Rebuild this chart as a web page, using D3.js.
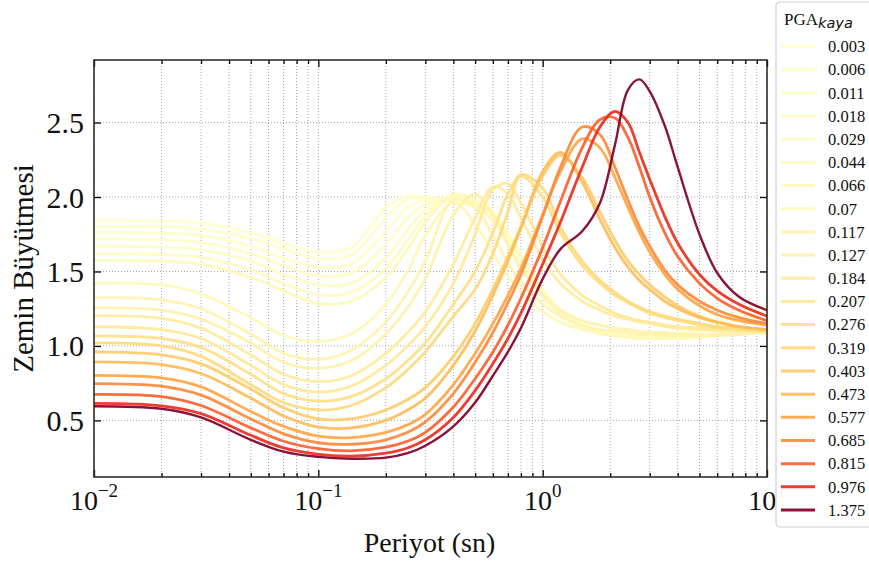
<!DOCTYPE html>
<html><head><meta charset="utf-8">
<script src="https://cdn.jsdelivr.net/npm/d3@7"></script>
<style>
html,body{margin:0;padding:0;background:#fff;}
svg{display:block;}
text{font-family:"Liberation Serif","Times New Roman",serif;}
</style></head>
<body><svg id="chart" width="869" height="563"></svg>
<script>
// ---------------- DATA ----------------
const periods = [0.01,0.02,0.03,0.05,0.07,0.1,0.14,0.2,0.25,0.3,0.4,0.5,0.6,0.7,0.8,1.0,1.2,1.5,1.8,2.1,2.4,2.7,3.0,3.5,4.0,5.0,6.0,7.5,10];
const pgaLabels = ["0.003","0.006","0.011","0.018","0.029","0.044","0.066","0.07","0.117","0.127","0.184","0.207","0.276","0.319","0.403","0.473","0.577","0.685","0.815","0.976","1.375"];
const yTicks = [0.5,1.0,1.5,2.0,2.5];
const xMajorTicks = [0.01,0.1,1,10];
const xTickExponents = ["\u22122","\u22121","0","1"];

const amp_0_003 = [1.843,1.84,1.825,1.76,1.69,1.63,1.66,1.93,2.01,1.98,1.96,1.93,1.85,1.72,1.58,1.36,1.24,1.14,1.10,1.08,1.07,1.07,1.07,1.08,1.09,1.12,1.16,1.21,1.27];
const amp_0_006 = [1.803,1.80,1.785,1.72,1.65,1.585,1.61,1.86,1.99,2.0,1.97,1.94,1.86,1.73,1.59,1.37,1.24,1.14,1.10,1.08,1.07,1.07,1.07,1.07,1.08,1.10,1.13,1.17,1.22];
const amp_0_011 = [1.762,1.758,1.74,1.67,1.59,1.53,1.55,1.77,1.93,1.98,1.97,1.95,1.88,1.75,1.60,1.38,1.24,1.14,1.09,1.07,1.06,1.06,1.06,1.06,1.06,1.07,1.08,1.10,1.12];
const amp_0_018 = [1.718,1.713,1.695,1.62,1.54,1.47,1.49,1.68,1.86,1.95,1.98,1.96,1.89,1.76,1.61,1.38,1.24,1.14,1.09,1.07,1.06,1.05,1.05,1.05,1.05,1.06,1.07,1.08,1.10];
const amp_0_029 = [1.668,1.663,1.645,1.57,1.48,1.41,1.42,1.59,1.78,1.91,2.0,1.98,1.90,1.76,1.61,1.38,1.24,1.14,1.09,1.07,1.06,1.05,1.05,1.05,1.05,1.06,1.07,1.08,1.09];
const amp_0_044 = [1.619,1.614,1.595,1.51,1.42,1.345,1.36,1.52,1.71,1.87,2.02,1.98,1.88,1.73,1.58,1.36,1.23,1.13,1.09,1.07,1.06,1.05,1.05,1.05,1.05,1.06,1.07,1.08,1.09];
const amp_0_066 = [1.575,1.57,1.55,1.46,1.37,1.285,1.30,1.46,1.65,1.83,2.01,1.96,1.84,1.68,1.53,1.33,1.21,1.12,1.08,1.07,1.06,1.05,1.05,1.05,1.05,1.06,1.07,1.08,1.09];
const amp_0_07  = [1.421,1.41,1.35,1.19,1.07,1.03,1.08,1.28,1.50,1.74,1.96,1.82,1.62,1.47,1.36,1.23,1.16,1.11,1.09,1.08,1.07,1.07,1.06,1.06,1.06,1.06,1.07,1.08,1.10];
const amp_0_117 = [1.324,1.31,1.25,1.08,0.95,0.91,0.97,1.16,1.36,1.57,1.98,1.93,1.74,1.56,1.43,1.28,1.20,1.14,1.11,1.10,1.09,1.08,1.08,1.07,1.07,1.07,1.07,1.08,1.09];
const amp_0_127 = [1.257,1.24,1.18,1.02,0.89,0.85,0.90,1.08,1.26,1.45,1.88,2.02,1.88,1.68,1.52,1.34,1.24,1.17,1.14,1.12,1.11,1.10,1.09,1.09,1.08,1.08,1.08,1.08,1.09];
const amp_0_184 = [1.203,1.185,1.12,0.94,0.81,0.76,0.80,0.95,1.09,1.23,1.55,1.86,2.07,2.02,1.86,1.58,1.42,1.30,1.24,1.20,1.18,1.16,1.15,1.13,1.12,1.11,1.10,1.10,1.10];
const amp_0_207 = [1.129,1.11,1.05,0.87,0.74,0.69,0.73,0.87,1.00,1.13,1.42,1.75,2.05,2.09,1.96,1.67,1.48,1.34,1.27,1.22,1.19,1.17,1.16,1.14,1.13,1.12,1.11,1.10,1.10];
const amp_0_276 = [1.068,1.05,0.99,0.81,0.68,0.63,0.66,0.78,0.90,1.02,1.28,1.50,1.76,2.02,2.14,2.00,1.76,1.54,1.42,1.34,1.29,1.25,1.22,1.19,1.17,1.14,1.12,1.11,1.10];
const amp_0_319 = [1.02,1.00,0.93,0.74,0.62,0.57,0.60,0.72,0.84,0.96,1.20,1.38,1.62,1.90,2.15,2.06,1.80,1.57,1.44,1.36,1.30,1.26,1.23,1.20,1.18,1.15,1.13,1.12,1.11];
const amp_0_403 = [0.96,0.94,0.88,0.71,0.585,0.51,0.51,0.57,0.64,0.72,0.93,1.15,1.38,1.60,1.80,2.14,2.28,2.13,1.90,1.71,1.57,1.48,1.41,1.33,1.27,1.20,1.16,1.13,1.11];
const amp_0_473 = [0.893,0.875,0.815,0.65,0.53,0.455,0.45,0.50,0.57,0.65,0.87,1.10,1.34,1.57,1.79,2.17,2.30,2.10,1.85,1.66,1.53,1.44,1.38,1.30,1.25,1.19,1.16,1.13,1.11];
const amp_0_577 = [0.803,0.785,0.725,0.56,0.46,0.395,0.385,0.42,0.47,0.54,0.74,0.95,1.15,1.34,1.52,1.88,2.17,2.39,2.33,2.13,1.93,1.76,1.63,1.48,1.38,1.27,1.21,1.17,1.14];
const amp_0_685 = [0.747,0.73,0.67,0.51,0.41,0.35,0.34,0.37,0.42,0.49,0.68,0.89,1.09,1.29,1.48,1.87,2.20,2.47,2.42,2.20,1.98,1.80,1.67,1.51,1.41,1.30,1.24,1.19,1.15];
const amp_0_815 = [0.675,0.66,0.60,0.45,0.36,0.31,0.295,0.32,0.36,0.42,0.59,0.78,0.96,1.14,1.32,1.66,1.97,2.33,2.52,2.53,2.40,2.20,2.00,1.76,1.60,1.42,1.32,1.24,1.17];
const amp_0_976 = [0.615,0.598,0.545,0.40,0.315,0.272,0.26,0.28,0.315,0.37,0.52,0.70,0.88,1.05,1.22,1.55,1.83,2.20,2.47,2.575,2.50,2.30,2.12,1.87,1.69,1.48,1.37,1.28,1.20];
const amp_1_375 = [0.595,0.578,0.52,0.37,0.29,0.255,0.243,0.25,0.28,0.33,0.46,0.62,0.80,0.96,1.12,1.45,1.65,1.77,1.96,2.35,2.72,2.79,2.71,2.48,2.20,1.75,1.49,1.33,1.24];

const seriesValues = [amp_0_003,amp_0_006,amp_0_011,amp_0_018,amp_0_029,amp_0_044,amp_0_066,amp_0_07,amp_0_117,amp_0_127,amp_0_184,amp_0_207,amp_0_276,amp_0_319,amp_0_403,amp_0_473,amp_0_577,amp_0_685,amp_0_815,amp_0_976,amp_1_375];

// ---------------- CHART ----------------
const svg = d3.select("#chart");
const W = 869, H = 563;
const m = {left:94, right:767, top:60, bottom:477};
const x = d3.scaleLog().domain([0.01,10]).range([m.left,m.right]);
const y = d3.scaleLinear().domain([0.12,2.92]).range([m.bottom,m.top]);
const pgaMax = +pgaLabels[pgaLabels.length-1];
const color = v => d3.interpolateYlOrRd(v/pgaMax);

svg.append("rect").attr("width",W).attr("height",H).attr("fill","#fff");

const xMinor = [];
[0.01,0.1,1].forEach(d=>{for(let k=2;k<=9;k++) xMinor.push(d*k);});
const xAllGrid = xMajorTicks.concat(xMinor);

const grid = svg.append("g").attr("class","grid");
grid.selectAll("line.vx").data(xAllGrid).join("line")
  .attr("x1",d=>x(d)).attr("x2",d=>x(d)).attr("y1",m.top).attr("y2",m.bottom)
  .attr("stroke","#a8a8a8").attr("stroke-width",1).attr("stroke-dasharray","1,2");
grid.selectAll("line.hy").data(yTicks).join("line")
  .attr("x1",m.left).attr("x2",m.right).attr("y1",d=>y(d)).attr("y2",d=>y(d))
  .attr("stroke","#a8a8a8").attr("stroke-width",1).attr("stroke-dasharray","1,2");

svg.append("clipPath").attr("id","clip").append("rect")
  .attr("x",m.left).attr("y",m.top).attr("width",m.right-m.left).attr("height",m.bottom-m.top);

const line = d3.line()
  .x((d,i)=>x(periods[i]))
  .y(d=>y(d))
  .curve(d3.curveCatmullRom.alpha(0.5));

const lines = svg.append("g").attr("clip-path","url(#clip)");
seriesValues.forEach((vals,i)=>{
  lines.append("path").datum(vals)
    .attr("d",line)
    .attr("fill","none")
    .attr("stroke",color(+pgaLabels[i]))
    .attr("stroke-opacity",0.92)
    .attr("stroke-width", i===seriesValues.length-1 ? 2.4 : 2.8)
    .attr("stroke-linejoin","round")
    .attr("stroke-linecap","round");
});

const axB = svg.append("g").attr("transform",`translate(0,${m.bottom})`)
  .call(d3.axisBottom(x).tickValues(xMajorTicks).tickSize(-7).tickFormat(""));
const axBm = svg.append("g").attr("transform",`translate(0,${m.bottom})`)
  .call(d3.axisBottom(x).tickValues(xMinor).tickSize(-4).tickFormat(""));
const axT = svg.append("g").attr("transform",`translate(0,${m.top})`)
  .call(d3.axisTop(x).tickValues(xMajorTicks).tickSize(-7).tickFormat(""));
const axTm = svg.append("g").attr("transform",`translate(0,${m.top})`)
  .call(d3.axisTop(x).tickValues(xMinor).tickSize(-4).tickFormat(""));
const axL = svg.append("g").attr("transform",`translate(${m.left},0)`)
  .call(d3.axisLeft(y).tickValues(yTicks).tickSize(-7).tickFormat(""));
const axR = svg.append("g").attr("transform",`translate(${m.right},0)`)
  .call(d3.axisRight(y).tickValues(yTicks).tickSize(-7).tickFormat(""));
[axB,axBm,axT,axTm,axL,axR].forEach(g=>{
  g.select(".domain").remove();
  g.selectAll(".tick line").attr("stroke","#000").attr("stroke-width",1.3);
});
svg.append("rect").attr("x",m.left).attr("y",m.top)
  .attr("width",m.right-m.left).attr("height",m.bottom-m.top)
  .attr("fill","none").attr("stroke","#222").attr("stroke-width",1.5);

svg.append("g").selectAll("text").data(yTicks).join("text")
  .attr("x",m.left-10).attr("y",d=>y(d)).attr("dy","0.35em")
  .attr("text-anchor","end").attr("font-size",30).attr("fill","#111")
  .text(d=>d.toFixed(1));

const xl = svg.append("g").selectAll("text").data(xMajorTicks).join("text")
  .attr("x",d=>x(d)).attr("y",m.bottom+33)
  .attr("text-anchor","middle").attr("font-size",28).attr("fill","#111");
xl.append("tspan").text("10");
xl.append("tspan").attr("font-size",19).attr("dy",-13).text((d,i)=>xTickExponents[i]);

svg.append("text").attr("x",(m.left+m.right)/2 - 1).attr("y",552)
  .attr("text-anchor","middle").attr("font-size",28).attr("fill","#111").text("Periyot (sn)");
svg.append("text").attr("transform",`translate(33,${(m.top+m.bottom)/2}) rotate(-90)`)
  .attr("text-anchor","middle").attr("font-size",29).attr("fill","#111").text("Zemin Büyütmesi");

// legend
const lg = svg.append("g");
lg.append("rect").attr("x",776).attr("y",2).attr("width",120).attr("height",525)
  .attr("rx",4).attr("fill","#fff").attr("fill-opacity",0.95).attr("stroke","#cfcfcf").attr("stroke-width",1.2);
const title = lg.append("text").attr("x",784).attr("y",25).attr("font-size",17).attr("fill","#111");
title.append("tspan").text("PGA");
title.append("tspan").attr("dy",3).attr("font-size",14.5).attr("font-style","italic")
  .attr("font-family","DejaVu Sans, sans-serif").text("kaya");
const ly = d3.scaleLinear().domain([0,pgaLabels.length-1]).range([46.5,510]);
const items = lg.selectAll("g.it").data(pgaLabels).join("g");
items.append("line").attr("x1",781).attr("x2",815).attr("y1",(d,i)=>ly(i)).attr("y2",(d,i)=>ly(i))
  .attr("stroke",d=>color(+d)).attr("stroke-opacity",0.92).attr("stroke-width",3);
items.append("text").attr("x",828).attr("y",(d,i)=>ly(i)).attr("dy","0.35em")
  .attr("font-size",16.5).attr("fill","#111").text(d=>d);
</script></body></html>
